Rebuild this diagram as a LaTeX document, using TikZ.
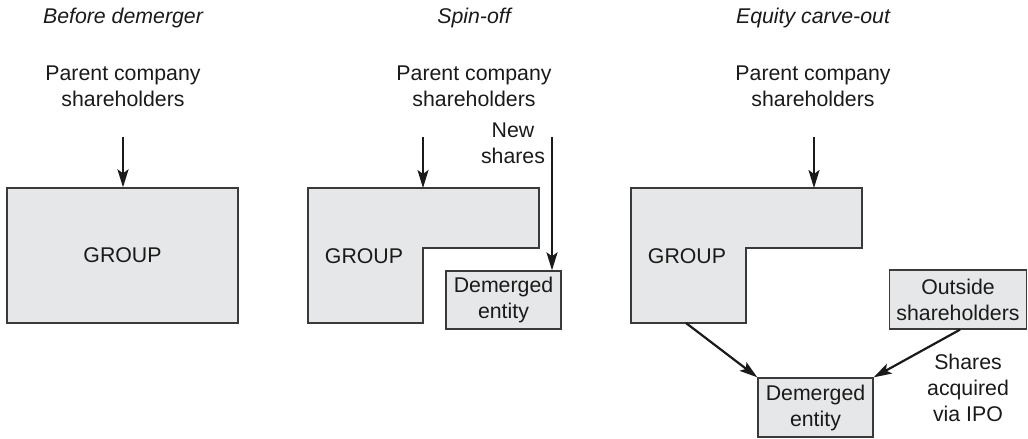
\documentclass[tikz,border=0pt]{standalone}
\usepackage{fontspec}
\setmainfont{Liberation Sans}
\usetikzlibrary{arrows.meta}
\definecolor{boxfill}{HTML}{E6E7E8}
\definecolor{boxline}{HTML}{3A3A3A}
\definecolor{ink}{HTML}{1A1A1A}
\tikzset{
  lbl/.style={align=center,inner sep=0pt,text=ink,font=\fontsize{21.3}{26}\selectfont},
  ttl/.style={inner sep=0pt,text=ink,font=\fontsize{21.3}{26}\selectfont\itshape},
  boxshape/.style={draw=boxline,fill=boxfill,line width=1.3pt},
  smallbox/.style={boxshape,align=center,inner sep=0pt,text=ink,font=\fontsize{21.3}{26}\selectfont},
  flow/.style={draw=ink,line width=2.2pt,-{Stealth[length=18pt,width=11pt,inset=4pt]}}
}
\begin{document}
\begin{tikzpicture}[x=1pt,y=-1pt]
\useasboundingbox (0,0) rectangle (1028,439);
% ---- Panel 1
\node[ttl] (t1) at (123,18) {Before demerger};
\node[lbl] (p1) at (123,86) {Parent company\\shareholders};
\node[boxshape,minimum width=231pt,minimum height=135pt,inner sep=0pt] (g1) at (122.5,255.5) {};
\node[lbl] at (g1.center) {GROUP};
\coordinate (a1) at (123,137);
\draw[flow] (a1) -- (a1 |- g1.north);
% ---- Panel 2
\node[ttl] (t2) at (474,18) {Spin-off};
\node[lbl] (p2) at (474,86) {Parent company\\shareholders};
\draw[boxshape] (308,188) -- (539,188) -- (539,248) -- (423,248) -- (423,323) -- (308,323) -- cycle;
\node[lbl] (g2) at (364,256) {GROUP};
\coordinate (g2top) at (423,188);
\coordinate (a2) at (423,137);
\draw[flow] (a2) -- (g2top);
\node[smallbox,minimum width=115pt,minimum height=58pt] (d2) at (503.5,300) {Demerged\\entity};
\node[lbl] (ns) at (513,143) {New\\shares};
\coordinate (a3) at (552,137);
\draw[flow] (a3) -- (a3 |- d2.north);
% ---- Panel 3
\node[ttl] (t3) at (813,18) {Equity carve-out};
\node[lbl] (p3) at (813,86) {Parent company\\shareholders};
\draw[boxshape] (631,188) -- (862,188) -- (862,248) -- (746,248) -- (746,323) -- (631,323) -- cycle;
\node[lbl] (g3) at (687,256) {GROUP};
\coordinate (g3top) at (814,188);
\coordinate (g3bot) at (686,323);
\coordinate (a4) at (814,137);
\draw[flow] (a4) -- (g3top);
\node[smallbox,minimum width=115pt,minimum height=59pt] (d3) at (815.5,407.5) {Demerged\\entity};
\node[smallbox,minimum width=137pt,minimum height=59pt] (os) at (958,299.5) {Outside\\shareholders};
\draw[flow] (g3bot) -- (d3.north west);
\draw[flow] ([xshift=2pt]os.south) -- (d3.north east);
\node[lbl] (ipo) at (968,388) {Shares\\acquired\\via IPO};
\end{tikzpicture}
\end{document}
